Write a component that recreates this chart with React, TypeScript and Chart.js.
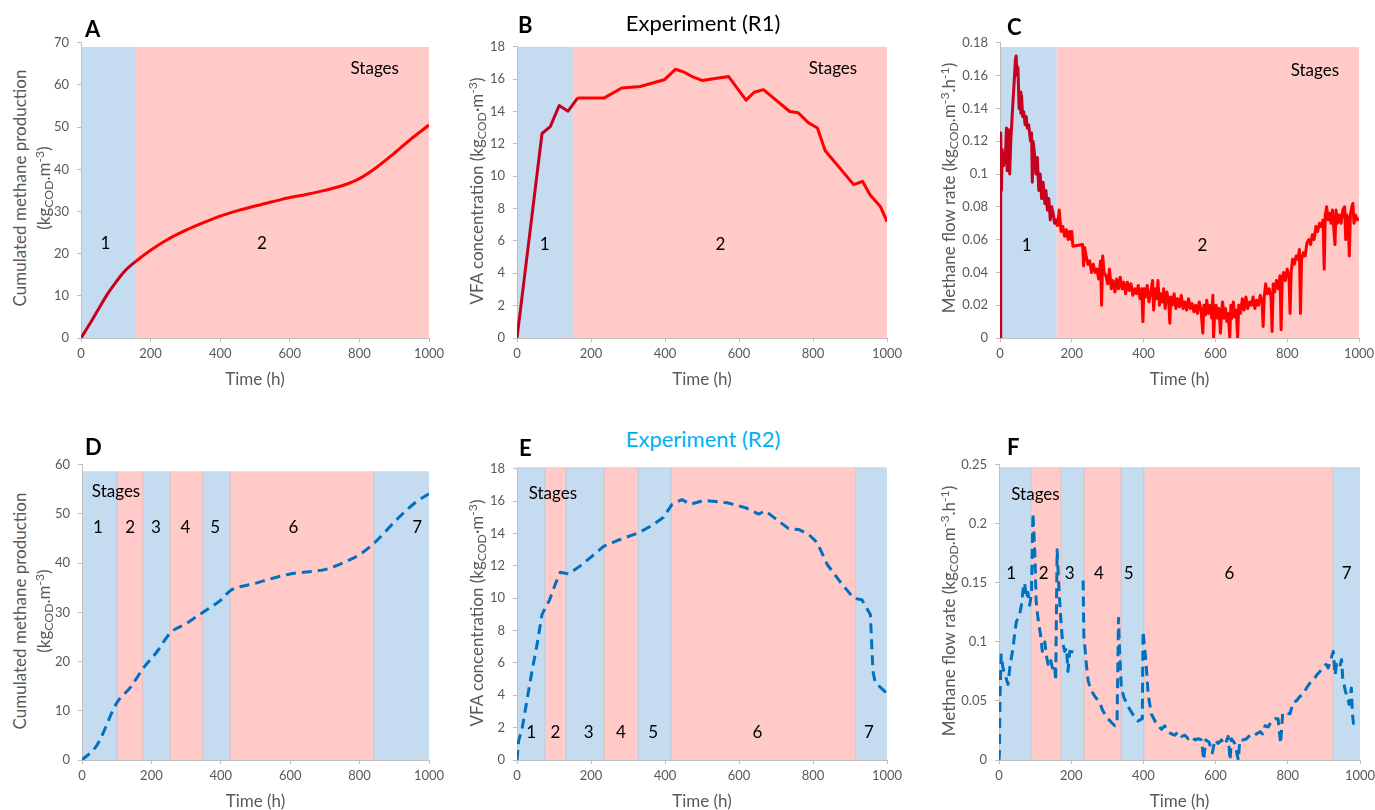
import React, { useEffect, useRef } from "react";
import { Chart, registerables } from "chart.js";
Chart.register(...registerables);

const FONT = "Lato, 'Open Sans', sans-serif";
const GREY = "#595959";
const BLUE_BG = "#c5dcf0";
const PINK_BG = "#ffcac8";
const RED = "#ff0000";
const DARK_RED = "#c8001e";
const BLUE_LINE = "#0070c0";

// ---------- Data: experiment R1 ----------
const timeA = [0, 25, 50, 75, 100, 125, 158, 200, 250, 300, 350, 400, 450, 500, 550, 600, 650, 700, 750, 800, 850, 900, 950, 1000];
const cumMethaneR1 = [0, 3.3, 6.8, 10.3, 13.2, 15.8, 18.2, 20.8, 23.4, 25.5, 27.3, 28.9, 30.2, 31.3, 32.3, 33.3, 34.1, 35.0, 36.1, 37.8, 40.5, 43.8, 47.3, 50.5];

const timeB = [0, 67.6, 90, 114, 138, 164, 236, 283, 333, 398, 428, 452, 477, 500, 572, 619, 641, 666, 737, 760, 787, 812, 833, 910, 934, 955, 982, 1000];
const vfaR1 = [0, 12.64, 13.07, 14.37, 14.02, 14.84, 14.84, 15.45, 15.55, 15.96, 16.61, 16.43, 16.12, 15.92, 16.16, 14.7, 15.19, 15.35, 14.0, 13.92, 13.31, 12.98, 11.58, 9.48, 9.68, 8.83, 8.13, 7.2];

const timeC = [
  0, 2, 4, 6, 10, 15, 18, 20, 24, 27,
  30, 35, 40, 43, 45, 48, 50, 53, 56, 58,
  60, 63, 66, 70, 73, 76, 80, 85, 88, 90,
  92, 95, 100, 104, 108, 112, 116, 120, 125, 128,
  132, 136, 140, 144, 148, 152, 156, 160, 165, 170,
  175, 180, 185, 190, 194, 198, 200, 203, 230, 233,
  236, 240, 245, 250, 255, 260, 265, 270, 275, 280,
  283, 286, 290, 295, 300, 305, 310, 315, 320, 325,
  330, 335, 340, 345, 350, 355, 360, 365, 370, 375,
  380, 385, 390, 395, 398, 401, 405, 410, 415, 420,
  425, 428, 432, 436, 440, 444, 448, 452, 456, 460,
  465, 470, 473, 476, 480, 485, 490, 495, 500, 505,
  510, 515, 520, 525, 530, 535, 540, 545, 550, 555,
  560, 565, 568, 572, 576, 580, 585, 590, 593, 595,
  598, 602, 606, 610, 614, 617, 620, 624, 628, 632,
  636, 640, 643, 646, 650, 654, 658, 662, 665, 670,
  675, 680, 685, 690, 695, 700, 705, 710, 715, 720,
  725, 730, 733, 736, 740, 745, 750, 755, 758, 761,
  765, 770, 775, 780, 783, 786, 790, 795, 800, 805,
  808, 811, 815, 820, 825, 830, 834, 837, 840, 845,
  850, 855, 860, 865, 870, 875, 880, 885, 890, 895,
  900, 903, 906, 910, 914, 918, 922, 926, 930, 933,
  936, 940, 945, 950, 955, 960, 963, 966, 970, 973,
  976, 980, 983, 986, 990, 995, 1000, 1002,
];
const flowR1 = [
  0, 0.125, 0.09, 0.115, 0.105, 0.11, 0.128, 0.102, 0.127, 0.1,
  0.12, 0.14, 0.158, 0.17, 0.172, 0.16, 0.165, 0.14, 0.15, 0.137,
  0.148, 0.135, 0.138, 0.13, 0.135, 0.128, 0.13, 0.12, 0.125, 0.095,
  0.12, 0.115, 0.1, 0.11, 0.09, 0.1, 0.085, 0.095, 0.082, 0.09,
  0.078, 0.085, 0.072, 0.08, 0.076, 0.07, 0.072, 0.068, 0.078, 0.065,
  0.068, 0.062, 0.066, 0.06, 0.065, 0.06, 0.065, 0.056, 0.057, 0.044,
  0.055, 0.05, 0.045, 0.047, 0.04, 0.045, 0.04, 0.042, 0.036, 0.047,
  0.02, 0.05, 0.04, 0.038, 0.033, 0.042, 0.03, 0.035, 0.028, 0.036,
  0.03, 0.037, 0.03, 0.034, 0.027, 0.034, 0.029, 0.033, 0.026, 0.03,
  0.027, 0.032, 0.024, 0.03, 0.01, 0.03, 0.025, 0.032, 0.022, 0.028,
  0.035, 0.017, 0.03, 0.024, 0.035, 0.02, 0.027, 0.022, 0.03, 0.018,
  0.028, 0.022, 0.009, 0.025, 0.02, 0.027, 0.018, 0.024, 0.019, 0.026,
  0.018, 0.022, 0.017, 0.024, 0.018, 0.021, 0.016, 0.02, 0.015, 0.022,
  0.017, 0.003, 0.02, 0.014, 0.023, 0.015, 0.02, 0.012, 0.026, 0.0,
  0.015, 0.02, 0.012, 0.018, 0.003, 0.015, 0.022, 0.012, 0.018, 0.01,
  0.015, 0.0, 0.02, 0.012, 0.022, 0.013, 0.017, 0.0, 0.02, 0.015,
  0.024, 0.017, 0.025, 0.018, 0.022, 0.02, 0.025, 0.018, 0.023, 0.02,
  0.026, 0.022, 0.007, 0.025, 0.033, 0.027, 0.03, 0.025, 0.004, 0.033,
  0.028, 0.035, 0.03, 0.038, 0.005, 0.035, 0.04, 0.035, 0.042, 0.037,
  0.015, 0.04, 0.048, 0.045, 0.05, 0.048, 0.054, 0.015, 0.048, 0.052,
  0.05, 0.058, 0.06, 0.057, 0.063, 0.06, 0.068, 0.065, 0.07, 0.068,
  0.072, 0.042, 0.075, 0.08, 0.072, 0.076, 0.07, 0.078, 0.066, 0.057,
  0.078, 0.07, 0.075, 0.07, 0.078, 0.08, 0.06, 0.075, 0.072, 0.05,
  0.075, 0.08, 0.082, 0.07, 0.075, 0.072, 0.073, 0.044,
];

// ---------- Data: experiment R2 ----------
const timeD = [0, 43, 101, 139, 177, 216, 254, 302, 350, 393, 400, 427, 494, 599, 705, 753, 801, 842, 916, 964, 993, 1000];
const cumMethaneR2 = [0, 3, 11.7, 14.7, 18.7, 22, 25.8, 27.8, 30.1, 32.1, 32.5, 34.4, 35.8, 37.8, 38.8, 40.1, 41.8, 44.1, 49.5, 52.5, 53.8, 54.1];

const timeE = [0, 4.5, 13.5, 27, 40.5, 54, 67.6, 88, 104, 117, 140, 171, 203, 234, 275, 329, 365, 396, 419, 446, 468, 505, 568, 617, 653, 671, 694, 734, 761, 788, 811, 838, 874, 910, 932, 955, 962, 968, 991, 1000];
const vfaR2 = [0, 1.2, 1.9, 3.7, 5.5, 7.1, 9.0, 9.9, 10.9, 11.6, 11.5, 12.0, 12.6, 13.2, 13.6, 14.05, 14.5, 15.0, 15.8, 16.1, 15.8, 16.05, 15.9, 15.6, 15.2, 15.4, 15.0, 14.3, 14.25, 13.95, 13.45, 12.1, 11.0, 10.0, 9.9, 9.0, 5.5, 4.8, 4.3, 4.1];

const timeF = [
  0, 1, 3, 6, 11, 18, 25, 31, 39, 43,
  48, 57, 62, 67, 71, 76, 80, 85, 90, 94,
  99, 103, 108, 115, 120, 127, 131, 136, 142, 148,
  154, 157, 161, 166, 171, 176, 182, 187, 191, 196,
  214, 224, 233, 235, 242, 247, 253, 261, 270, 279, 287,
  293, 302, 311, 321, 327, 331, 334, 339, 346, 358,
  372, 385, 397, 399, 407, 413, 422, 432, 441, 450,
  459, 468, 478, 487, 496, 506, 515, 524, 533, 543,
  552, 561, 567, 573, 582, 591, 598, 607, 616, 626,
  635, 640, 644, 653, 663, 667, 677, 686, 695, 704,
  713, 723, 730, 737, 746, 755, 764, 773, 780, 786,
  797, 806, 815, 824, 834, 843, 852, 861, 870, 880,
  889, 898, 906, 912, 919, 926, 931, 935, 943, 949,
  952, 959, 965, 970, 976, 979, 984,
];
const flowR2 = [
  0, 0.005, 0.055, 0.089, 0.078, 0.071, 0.064, 0.081, 0.095, 0.106,
  0.117, 0.123, 0.131, 0.145, 0.15, 0.137, 0.142, 0.131, 0.141, 0.209,
  0.178, 0.134, 0.12, 0.106, 0.092, 0.1, 0.089, 0.081, 0.086, 0.078,
  0.081, 0.067, 0.178, 0.145, 0.12, 0.1, 0.092, 0.095, 0.075, 0.092,
  0.091, null, 0.152, 0.106, 0.081, 0.067, 0.061, 0.056, 0.052, 0.049, 0.042,
  0.039, 0.035, 0.032, 0.029, 0.031, 0.12, 0.092, 0.061, 0.053, 0.045,
  0.038, 0.033, 0.035, 0.109, 0.084, 0.056, 0.039, 0.033, 0.029, 0.026,
  0.029, 0.024, 0.022, 0.021, 0.024, 0.02, 0.021, 0.018, 0.02, 0.017,
  0.018, 0.017, 0.0, 0.017, 0.015, 0.006, 0.017, 0.014, 0.017, 0.013,
  0.02, 0.0, 0.018, 0.014, 0.0, 0.017, 0.017, 0.018, 0.021, 0.02,
  0.022, 0.024, 0.022, 0.029, 0.028, 0.033, 0.035, 0.035, 0.014, 0.04,
  0.04, 0.039, 0.049, 0.05, 0.054, 0.056, 0.061, 0.065, 0.067, 0.072,
  0.075, 0.078, 0.081, 0.078, 0.085, 0.092, 0.072, 0.081, 0.078, 0.085,
  0.07, 0.059, 0.053, 0.047, 0.061, 0.039, 0.025,
];

// ---------- Stage boundaries (h) ----------
const stageEdgesA = [0, 158, 1000];
const stageEdgesB = [0, 151, 1000];
const stageEdgesC = [0, 158, 1000];
const stageEdgesD = [0, 101, 177, 253, 350, 426, 842, 1000];
const stageEdgesE = [0, 77, 132, 235, 326, 416, 917, 1000];
const stageEdgesF = [0, 90, 173, 235, 338, 403, 926, 1000];

const stageNamesR1 = ["1", "2"];
const stageNamesR2 = ["1", "2", "3", "4", "5", "6", "7"];
const stageLabelXA = [70, 520];
const stageLabelXB = [75, 550];
const stageLabelXC = [74, 564];
const stageLabelXD = [46, 139, 213, 298, 384, 609, 966];
const stageLabelXE = [38, 104, 194, 281, 368, 650, 951];
const stageLabelXF = [34, 124, 196, 277, 359, 638, 963];

type Rect = { L: number; T: number; R: number; B: number };
type PanelCfg = {
  rect: Rect;
  xs: number[];
  ys: (number | null)[];
  yMax: number;
  yStep: number;
  edges: number[];
  shadeTop: number;
  names: string[];
  namesX: number[];
  namesY: number;
  stagesPos: [number, number];
  r2: boolean;
  smooth: boolean;
};

const panels: PanelCfg[] = [
  { rect: { L: 81, T: 39, R: 429, B: 338 }, xs: timeA, ys: cumMethaneR1, yMax: 70, yStep: 10, edges: stageEdgesA, shadeTop: 69, names: stageNamesR1, namesX: stageLabelXA, namesY: 22.3, stagesPos: [844, 63.9], r2: false, smooth: true },
  { rect: { L: 517, T: 43, R: 887, B: 338 }, xs: timeB, ys: vfaR1, yMax: 18, yStep: 2, edges: stageEdgesB, shadeTop: 18, names: stageNamesR1, namesX: stageLabelXB, namesY: 5.8, stagesPos: [854, 16.67], r2: false, smooth: false },
  { rect: { L: 1000, T: 39, R: 1359, B: 338 }, xs: timeC, ys: flowR1, yMax: 0.18, yStep: 0.02, edges: stageEdgesC, shadeTop: 0.1774, names: stageNamesR1, namesX: stageLabelXC, namesY: 0.0563, stagesPos: [877, 0.163], r2: false, smooth: false },
  { rect: { L: 82, T: 461, R: 429, B: 760 }, xs: timeD, ys: cumMethaneR2, yMax: 60, yStep: 10, edges: stageEdgesD, shadeTop: 58.7, names: stageNamesR2, namesX: stageLabelXD, namesY: 47.3, stagesPos: [98, 54.6], r2: true, smooth: true },
  { rect: { L: 517, T: 465, R: 887, B: 760 }, xs: timeE, ys: vfaR2, yMax: 18, yStep: 2, edges: stageEdgesE, shadeTop: 18.1, names: stageNamesR2, namesX: stageLabelXE, namesY: 1.67, stagesPos: [97, 16.5], r2: true, smooth: false },
  { rect: { L: 999, T: 461, R: 1360, B: 760 }, xs: timeF, ys: flowR2, yMax: 0.25, yStep: 0.05, edges: stageEdgesF, shadeTop: 0.248, names: stageNamesR2, namesX: stageLabelXF, namesY: 0.158, stagesPos: [101, 0.225], r2: true, smooth: false },
];

const Y_W = 50;
const PAD_T = 12;
const PAD_R = 30;
const X_H = 52;

const fmt = (v: any) => String(parseFloat(Number(v).toFixed(4)));

function PanelChart({ p }: { p: PanelCfg }) {
  const ref = useRef<HTMLCanvasElement>(null);
  const { L, T, R, B } = p.rect;
  const w = Y_W + (R - L) + PAD_R;
  const h = PAD_T + (B - T) + X_H;

  useEffect(() => {
    const stagePlugin = {
      id: "stages",
      beforeDraw(chart: any) {
        const ctx = chart.ctx;
        const xs = chart.scales.x;
        const ys = chart.scales.y;
        const top = ys.getPixelForValue(p.shadeTop);
        const bottom = ys.getPixelForValue(0);
        ctx.save();
        for (let i = 0; i < p.edges.length - 1; i++) {
          const x0 = xs.getPixelForValue(p.edges[i]);
          const x1 = xs.getPixelForValue(p.edges[i + 1]);
          ctx.fillStyle = i % 2 === 0 ? BLUE_BG : PINK_BG;
          ctx.fillRect(x0, top, x1 - x0, bottom - top);
          if (i > 0 && p.r2) {
            ctx.fillStyle = "rgba(160,170,190,0.45)";
            ctx.fillRect(Math.round(x0) - 0.5, top, 1, bottom - top);
          }
        }
        ctx.restore();
      },
      afterDatasetsDraw(chart: any) {
        const ctx = chart.ctx;
        const xs = chart.scales.x;
        const ys = chart.scales.y;
        ctx.save();
        ctx.fillStyle = "#000";
        ctx.font = `17px ${FONT}`;
        ctx.textAlign = "center";
        ctx.textBaseline = "middle";
        p.names.forEach((n, i) => {
          ctx.fillText(n, xs.getPixelForValue(p.namesX[i]), ys.getPixelForValue(p.namesY));
        });
        ctx.fillText("Stages", xs.getPixelForValue(p.stagesPos[0]), ys.getPixelForValue(p.stagesPos[1]));
        ctx.restore();
      },
    };

    const firstEnd = p.edges[1];
    const dataset: any = {
      data: p.xs.map((x, i) => ({ x, y: p.ys[i] })),
      borderColor: p.r2 ? BLUE_LINE : RED,
      borderWidth: 3,
      pointRadius: 0,
      fill: false,
      spanGaps: false,
      borderCapStyle: "butt",
      borderJoinStyle: "round",
    };
    if (p.smooth) dataset.cubicInterpolationMode = "monotone";
    else dataset.tension = 0;
    if (p.r2) dataset.borderDash = [10, 6];
    else
      dataset.segment = {
        borderColor: (c: any) => (c.p0.parsed.x < firstEnd ? DARK_RED : RED),
      };

    const tickFont = { family: FONT, size: 13 };
    const chart = new Chart(ref.current as HTMLCanvasElement, {
      type: "line",
      data: { datasets: [dataset] },
      options: {
        responsive: false,
        animation: false,
        devicePixelRatio: 1,
        layout: { padding: { top: PAD_T, right: PAD_R, left: 0, bottom: 0 } },
        plugins: { legend: { display: false }, tooltip: { enabled: false } },
        scales: {
          x: {
            type: "linear",
            min: 0,
            max: 1000,
            ticks: { stepSize: 200, maxRotation: 0, font: tickFont, color: GREY, padding: 4, callback: fmt },
            grid: { drawOnChartArea: false, tickLength: 4, color: "#bfbfbf" },
            border: { color: "#bfbfbf" },
            title: { display: true, text: "Time (h)", font: { family: FONT, size: 17 }, color: GREY, padding: { top: 0, bottom: 0 } },
            afterFit: (s: any) => {
              s.height = X_H;
            },
          },
          y: {
            type: "linear",
            min: 0,
            max: p.yMax,
            ticks: {
              stepSize: p.yStep,
              font: tickFont,
              color: GREY,
              padding: 8,
              callback: fmt,
            },
            grid: { drawOnChartArea: false, tickLength: 4, color: "#bfbfbf" },
            border: { color: "#bfbfbf" },
            afterFit: (s: any) => {
              s.width = Y_W;
            },
          },
        },
      } as any,
      plugins: [stagePlugin],
    });
    return () => chart.destroy();
  }, []);

  return (
    <canvas
      ref={ref}
      width={w}
      height={h}
      style={{ position: "absolute", left: L - Y_W, top: T - PAD_T, width: w, height: h }}
    />
  );
}

const subStyle: React.CSSProperties = { fontSize: "0.72em", verticalAlign: "-0.3em", lineHeight: 0 };
const supStyle: React.CSSProperties = { fontSize: "0.72em", verticalAlign: "0.45em", lineHeight: 0 };

function VTitle({ cx, cy, children }: { cx: number; cy: number; children: React.ReactNode }) {
  return (
    <div
      style={{
        position: "absolute",
        left: cx,
        top: cy,
        transform: "translate(-50%,-50%) rotate(-90deg)",
        whiteSpace: "nowrap",
        fontSize: 17,
        color: GREY,
        lineHeight: 1,
        fontFamily: FONT,
      }}
    >
      {children}
    </div>
  );
}

function Letter({ x, y, t }: { x: number; y: number; t: string }) {
  return (
    <div style={{ position: "absolute", left: x, top: y, transform: "translateY(-50%)", fontWeight: 700, fontSize: 22, lineHeight: 1, color: "#000", fontFamily: FONT }}>
      {t}
    </div>
  );
}

function Heading({ cx, cy, t, color }: { cx: number; cy: number; t: string; color: string }) {
  return (
    <div style={{ position: "absolute", left: cx, top: cy, transform: "translate(-50%,-50%)", fontSize: 22, lineHeight: 1, color, whiteSpace: "nowrap", fontFamily: FONT }}>
      {t}
    </div>
  );
}

const unitCum = (
  <>
    (kg<span style={subStyle}>COD</span>.m<span style={supStyle}>-3</span>)
  </>
);
const unitVfa = (
  <>
    VFA concentration (kg<span style={subStyle}>COD</span>·m<span style={supStyle}>-3</span>)
  </>
);
const unitFlow = (
  <>
    Methane flow rate (kg<span style={subStyle}>COD</span>.m<span style={supStyle}>-3</span>.h<span style={supStyle}>-1</span>)
  </>
);

export default function App() {
  return (
    <div style={{ position: "fixed", left: 0, top: 0, width: 1375, height: 810, overflow: "hidden", background: "#fff", fontFamily: FONT }}>
      {panels.map((p, i) => (
        <PanelChart key={i} p={p} />
      ))}
      <Letter x={85} y={29} t="A" />
      <Letter x={518} y={25} t="B" />
      <Letter x={1007} y={27} t="C" />
      <Letter x={85} y={447} t="D" />
      <Letter x={519} y={448} t="E" />
      <Letter x={1007} y={447} t="F" />
      <Heading cx={703} cy={23} t="Experiment (R1)" color="#000" />
      <Heading cx={703} cy={439} t="Experiment (R2)" color="#00b0f0" />

      <VTitle cx={19} cy={188}>Cumulated methane production</VTitle>
      <VTitle cx={43} cy={188}>{unitCum}</VTitle>
      <VTitle cx={476} cy={191}>{unitVfa}</VTitle>
      <VTitle cx={948} cy={188}>{unitFlow}</VTitle>

      <VTitle cx={19} cy={611}>Cumulated methane production</VTitle>
      <VTitle cx={43} cy={611}>{unitCum}</VTitle>
      <VTitle cx={476} cy={613}>{unitVfa}</VTitle>
      <VTitle cx={948} cy={611}>{unitFlow}</VTitle>
    </div>
  );
}
